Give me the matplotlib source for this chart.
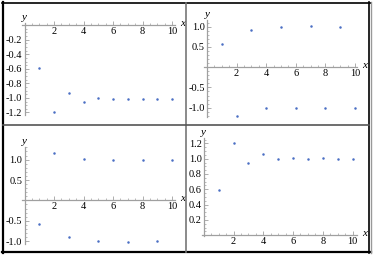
import numpy as np
import matplotlib
matplotlib.use('Agg')
import matplotlib.pyplot as plt
from matplotlib.ticker import MultipleLocator, FixedLocator
from matplotlib.lines import Line2D

plt.rcParams['font.family'] = 'Liberation Serif'
plt.rcParams['axes.unicode_minus'] = False

# data
n = [1, 2, 3, 4, 5, 6, 7, 8, 9, 10]
y_tl = [-0.59, -1.2, -0.93, -1.06, -1.0, -1.02, -1.02, -1.02, -1.01, -1.01]
y_tr = [0.58, -1.2, 0.92, -1.02, 0.99, -1.02, 1.02, -1.0, 1.0, -1.01]
y_bl = [-0.58, 1.16, -0.91, 1.02, -0.99, 1.0, -1.01, 1.0, -0.99, 1.0]
y_br = [0.59, 1.2, 0.94, 1.06, 1.0, 1.01, 1.0, 1.01, 1.0, 1.0]

x_ticks = [2, 4, 6, 8, 10]
yt_tl = [-0.2, -0.4, -0.6, -0.8, -1.0, -1.2]
yt_tr = [-1.0, -0.5, 0.5, 1.0]
yt_bl = [-1.0, -0.5, 0.5, 1.0]
yt_br = [0.2, 0.4, 0.6, 0.8, 1.0, 1.2]

W, H = 375, 259
fig = plt.figure(figsize=(W / 100, H / 100), dpi=100)
gray = '#a0a0a0'
dot = '#4a6fc4'


def panel(left, right, top, bottom, xlim, ylim, y, yt, ymin_step, yfmt):
    ax = fig.add_axes([left / W, 1 - bottom / H, (right - left) / W, (bottom - top) / H])
    ax.plot(n, y, 'o', ms=1.8, color=dot, mec='none', clip_on=False)
    ax.set_xlim(xlim)
    ax.set_ylim(ylim)
    ax.patch.set_alpha(0)
    for s in ['top', 'right']:
        ax.spines[s].set_visible(False)
    ax.spines['left'].set_position(('data', 0))
    ax.spines['bottom'].set_position(('data', 0))
    ax.spines['left'].set_color(gray)
    ax.spines['bottom'].set_color(gray)
    ax.spines['left'].set_linewidth(0.9)
    ax.spines['bottom'].set_linewidth(0.9)
    ax.xaxis.set_major_locator(FixedLocator(x_ticks))
    ax.xaxis.set_minor_locator(MultipleLocator(0.5))
    ax.yaxis.set_major_locator(FixedLocator(yt))
    ax.yaxis.set_minor_locator(MultipleLocator(ymin_step))
    ax.set_yticklabels([yfmt % v for v in yt])
    ax.tick_params(which='major', direction='in', length=3, width=0.6, color=gray,
                   labelsize=7.5, pad=1.5)
    ax.tick_params(which='minor', direction='in', length=1.5, width=0.5, color=gray)
    ax.annotate('x', xy=(1.0, 0), xycoords=ax.get_yaxis_transform(), xytext=(4, 1.5),
                textcoords='offset points', fontsize=8, style='italic', ha='left', va='center')
    ax.annotate('y', xy=(0, 1.0), xycoords=ax.get_xaxis_transform(), xytext=(0, 1),
                textcoords='offset points', fontsize=8, style='italic', ha='center', va='bottom')
    return ax


panel(22, 175, 23, 115, (-0.17, 10.2), (-1.235, 0.03), y_tl, yt_tl, 0.05, '%.1f')
panel(204, 357, 20, 117, (-0.2, 10.14), (-1.23, 1.165), y_tr, yt_tr, 0.1, '%.1f')
panel(22, 175, 147, 244, (-0.17, 10.2), (-1.07, 1.31), y_bl, yt_bl, 0.1, '%.1f')
panel(202, 357, 138, 236, (-0.12, 10.3), (-0.01, 1.27), y_br, yt_br, 0.05, '%.1f')

# frame and dividers
def hline(y, x0, x1, c, lw):
    fig.add_artist(Line2D([x0 / W, x1 / W], [1 - y / H, 1 - y / H], color=c, lw=lw))

def vline(x, y0, y1, c, lw):
    fig.add_artist(Line2D([x / W, x / W], [1 - y0 / H, 1 - y1 / H], color=c, lw=lw))

hline(3, 2, 371, 'black', 1.2)
hline(252, 2, 371, 'black', 1.6)
vline(3, 2, 253, 'black', 1.6)
vline(369, 2, 253, 'black', 1.2)
vline(371, 2, 253, '#999999', 1.0)
vline(186, 3, 252, '#777777', 1.2)
hline(125, 3, 369, '#555555', 1.2)

fig.savefig('out.png', dpi=100)
